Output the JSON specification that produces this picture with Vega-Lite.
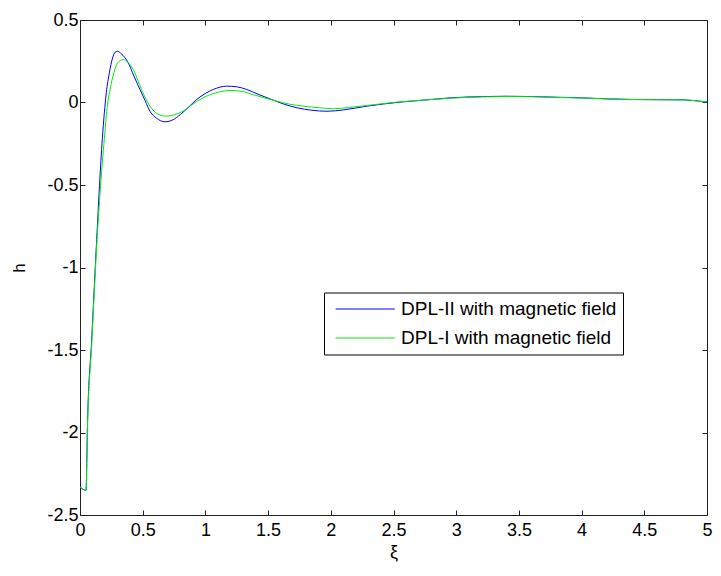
{
  "$schema": "https://vega.github.io/schema/vega-lite/v6.json",
  "width": 627,
  "height": 495,
  "autosize": "none",
  "padding": {"left": 80, "top": 20, "right": 14, "bottom": 61},
  "background": "white",
  "config": {
    "view": {"stroke": null},
    "font": "Liberation Sans",
    "axis": {"grid": false, "domainColor": "#222222", "tickColor": "#222222", "labelColor": "#000000", "labelFont": "Liberation Sans", "labelFontSize": 18, "titleFont": "Liberation Sans", "titleColor": "#000000", "titleFontWeight": "normal"}
  },
  "data": {"values": [
    {"xi": 0, "h": -2.33, "s": "DPL-II with magnetic field"},
    {"xi": 0.048, "h": -2.35, "s": "DPL-II with magnetic field"},
    {"xi": 0.06, "h": -1.94, "s": "DPL-II with magnetic field"},
    {"xi": 0.093, "h": -1.44, "s": "DPL-II with magnetic field"},
    {"xi": 0.133, "h": -0.83, "s": "DPL-II with magnetic field"},
    {"xi": 0.178, "h": -0.22, "s": "DPL-II with magnetic field"},
    {"xi": 0.21, "h": 0.06, "s": "DPL-II with magnetic field"},
    {"xi": 0.234, "h": 0.18, "s": "DPL-II with magnetic field"},
    {"xi": 0.26, "h": 0.27, "s": "DPL-II with magnetic field"},
    {"xi": 0.28, "h": 0.305, "s": "DPL-II with magnetic field"},
    {"xi": 0.30, "h": 0.31, "s": "DPL-II with magnetic field"},
    {"xi": 0.33, "h": 0.295, "s": "DPL-II with magnetic field"},
    {"xi": 0.385, "h": 0.24, "s": "DPL-II with magnetic field"},
    {"xi": 0.43, "h": 0.16, "s": "DPL-II with magnetic field"},
    {"xi": 0.478, "h": 0.079, "s": "DPL-II with magnetic field"},
    {"xi": 0.52, "h": 0.01, "s": "DPL-II with magnetic field"},
    {"xi": 0.558, "h": -0.053, "s": "DPL-II with magnetic field"},
    {"xi": 0.61, "h": -0.095, "s": "DPL-II with magnetic field"},
    {"xi": 0.678, "h": -0.117, "s": "DPL-II with magnetic field"},
    {"xi": 0.74, "h": -0.105, "s": "DPL-II with magnetic field"},
    {"xi": 0.80, "h": -0.073, "s": "DPL-II with magnetic field"},
    {"xi": 0.87, "h": -0.025, "s": "DPL-II with magnetic field"},
    {"xi": 0.93, "h": 0.018, "s": "DPL-II with magnetic field"},
    {"xi": 1.0, "h": 0.055, "s": "DPL-II with magnetic field"},
    {"xi": 1.063, "h": 0.079, "s": "DPL-II with magnetic field"},
    {"xi": 1.17, "h": 0.099, "s": "DPL-II with magnetic field"},
    {"xi": 1.25, "h": 0.095, "s": "DPL-II with magnetic field"},
    {"xi": 1.33, "h": 0.079, "s": "DPL-II with magnetic field"},
    {"xi": 1.42, "h": 0.05, "s": "DPL-II with magnetic field"},
    {"xi": 1.515, "h": 0.022, "s": "DPL-II with magnetic field"},
    {"xi": 1.62, "h": -0.008, "s": "DPL-II with magnetic field"},
    {"xi": 1.73, "h": -0.032, "s": "DPL-II with magnetic field"},
    {"xi": 1.85, "h": -0.047, "s": "DPL-II with magnetic field"},
    {"xi": 1.97, "h": -0.053, "s": "DPL-II with magnetic field"},
    {"xi": 2.1, "h": -0.045, "s": "DPL-II with magnetic field"},
    {"xi": 2.29, "h": -0.022, "s": "DPL-II with magnetic field"},
    {"xi": 2.55, "h": 0.002, "s": "DPL-II with magnetic field"},
    {"xi": 2.75, "h": 0.015, "s": "DPL-II with magnetic field"},
    {"xi": 2.95, "h": 0.028, "s": "DPL-II with magnetic field"},
    {"xi": 3.21, "h": 0.036, "s": "DPL-II with magnetic field"},
    {"xi": 3.4, "h": 0.038, "s": "DPL-II with magnetic field"},
    {"xi": 3.61, "h": 0.036, "s": "DPL-II with magnetic field"},
    {"xi": 3.8, "h": 0.032, "s": "DPL-II with magnetic field"},
    {"xi": 4.01, "h": 0.028, "s": "DPL-II with magnetic field"},
    {"xi": 4.2, "h": 0.022, "s": "DPL-II with magnetic field"},
    {"xi": 4.41, "h": 0.018, "s": "DPL-II with magnetic field"},
    {"xi": 4.6, "h": 0.017, "s": "DPL-II with magnetic field"},
    {"xi": 4.81, "h": 0.016, "s": "DPL-II with magnetic field"},
    {"xi": 4.94, "h": 0.008, "s": "DPL-II with magnetic field"},
    {"xi": 5.0, "h": 0.003, "s": "DPL-II with magnetic field"},
    {"xi": 0, "h": -2.33, "s": "DPL-I with magnetic field"},
    {"xi": 0.048, "h": -2.35, "s": "DPL-I with magnetic field"},
    {"xi": 0.06, "h": -1.96, "s": "DPL-I with magnetic field"},
    {"xi": 0.093, "h": -1.47, "s": "DPL-I with magnetic field"},
    {"xi": 0.133, "h": -0.87, "s": "DPL-I with magnetic field"},
    {"xi": 0.194, "h": -0.22, "s": "DPL-I with magnetic field"},
    {"xi": 0.22, "h": -0.01, "s": "DPL-I with magnetic field"},
    {"xi": 0.24, "h": 0.079, "s": "DPL-I with magnetic field"},
    {"xi": 0.27, "h": 0.18, "s": "DPL-I with magnetic field"},
    {"xi": 0.30, "h": 0.24, "s": "DPL-I with magnetic field"},
    {"xi": 0.345, "h": 0.26, "s": "DPL-I with magnetic field"},
    {"xi": 0.38, "h": 0.245, "s": "DPL-I with magnetic field"},
    {"xi": 0.425, "h": 0.20, "s": "DPL-I with magnetic field"},
    {"xi": 0.49, "h": 0.079, "s": "DPL-I with magnetic field"},
    {"xi": 0.558, "h": -0.022, "s": "DPL-I with magnetic field"},
    {"xi": 0.62, "h": -0.07, "s": "DPL-I with magnetic field"},
    {"xi": 0.69, "h": -0.083, "s": "DPL-I with magnetic field"},
    {"xi": 0.75, "h": -0.075, "s": "DPL-I with magnetic field"},
    {"xi": 0.82, "h": -0.053, "s": "DPL-I with magnetic field"},
    {"xi": 0.90, "h": -0.01, "s": "DPL-I with magnetic field"},
    {"xi": 0.98, "h": 0.028, "s": "DPL-I with magnetic field"},
    {"xi": 1.08, "h": 0.058, "s": "DPL-I with magnetic field"},
    {"xi": 1.2, "h": 0.073, "s": "DPL-I with magnetic field"},
    {"xi": 1.29, "h": 0.068, "s": "DPL-I with magnetic field"},
    {"xi": 1.38, "h": 0.048, "s": "DPL-I with magnetic field"},
    {"xi": 1.47, "h": 0.028, "s": "DPL-I with magnetic field"},
    {"xi": 1.57, "h": 0.008, "s": "DPL-I with magnetic field"},
    {"xi": 1.67, "h": -0.01, "s": "DPL-I with magnetic field"},
    {"xi": 1.78, "h": -0.022, "s": "DPL-I with magnetic field"},
    {"xi": 1.91, "h": -0.032, "s": "DPL-I with magnetic field"},
    {"xi": 2.02, "h": -0.038, "s": "DPL-I with magnetic field"},
    {"xi": 2.15, "h": -0.03, "s": "DPL-I with magnetic field"},
    {"xi": 2.29, "h": -0.018, "s": "DPL-I with magnetic field"},
    {"xi": 2.55, "h": 0.004, "s": "DPL-I with magnetic field"},
    {"xi": 2.75, "h": 0.015, "s": "DPL-I with magnetic field"},
    {"xi": 2.95, "h": 0.026, "s": "DPL-I with magnetic field"},
    {"xi": 3.21, "h": 0.034, "s": "DPL-I with magnetic field"},
    {"xi": 3.4, "h": 0.036, "s": "DPL-I with magnetic field"},
    {"xi": 3.61, "h": 0.035, "s": "DPL-I with magnetic field"},
    {"xi": 3.8, "h": 0.031, "s": "DPL-I with magnetic field"},
    {"xi": 4.01, "h": 0.027, "s": "DPL-I with magnetic field"},
    {"xi": 4.2, "h": 0.022, "s": "DPL-I with magnetic field"},
    {"xi": 4.41, "h": 0.018, "s": "DPL-I with magnetic field"},
    {"xi": 4.6, "h": 0.017, "s": "DPL-I with magnetic field"},
    {"xi": 4.81, "h": 0.016, "s": "DPL-I with magnetic field"},
    {"xi": 4.94, "h": 0.008, "s": "DPL-I with magnetic field"},
    {"xi": 5.0, "h": 0.003, "s": "DPL-I with magnetic field"}
  ]},
  "resolve": {"axis": {"x": "independent", "y": "independent"}},
  "layer": [
    {
      "mark": {"type": "line", "strokeWidth": 1, "interpolate": "monotone"},
      "encoding": {
        "x": {"field": "xi", "type": "quantitative", "scale": {"domain": [0, 5], "nice": false},
              "axis": {"orient": "bottom", "values": [0, 0.5, 1, 1.5, 2, 2.5, 3, 3.5, 4, 4.5, 5], "tickSize": -5, "labelPadding": 11, "labelExpr": "'' + datum.value", "title": "ξ", "titleFontSize": 18, "titlePadding": 4, "labelFlush": false}},
        "y": {"field": "h", "type": "quantitative", "scale": {"domain": [-2.5, 0.5], "nice": false},
              "axis": {"orient": "left", "values": [-2.5, -2, -1.5, -1, -0.5, 0, 0.5], "tickSize": -5, "labelPadding": 7, "labelExpr": "'' + datum.value", "title": "h", "titleFontSize": 17, "titlePadding": 18, "labelFlush": false}},
        "color": {"field": "s", "type": "nominal", "sort": ["DPL-II with magnetic field", "DPL-I with magnetic field"],
                  "scale": {"domain": ["DPL-II with magnetic field", "DPL-I with magnetic field"], "range": ["#0000ff", "#00ee00"]},
                  "legend": {"title": null, "orient": "none", "legendX": 244, "legendY": 272.5, "strokeColor": "#000000", "fillColor": "#ffffff", "padding": 6, "symbolType": "M-0.5,0H5.6", "symbolSize": 376, "symbolStrokeWidth": 1.2, "labelFontSize": 19, "labelFont": "Liberation Sans", "labelColor": "#000000", "labelOffset": 50, "rowPadding": 8, "labelLimit": 400}}
      }
    },
    {
      "mark": {"type": "line", "opacity": 0},
      "encoding": {
        "x": {"field": "xi", "type": "quantitative", "axis": {"orient": "top", "values": [0, 0.5, 1, 1.5, 2, 2.5, 3, 3.5, 4, 4.5, 5], "tickSize": -5, "labels": false, "title": null}},
        "y": {"field": "h", "type": "quantitative", "axis": {"orient": "right", "values": [-2.5, -2, -1.5, -1, -0.5, 0, 0.5], "tickSize": -5, "labels": false, "title": null}},
        "detail": {"field": "s"}
      }
    }
  ]
}
